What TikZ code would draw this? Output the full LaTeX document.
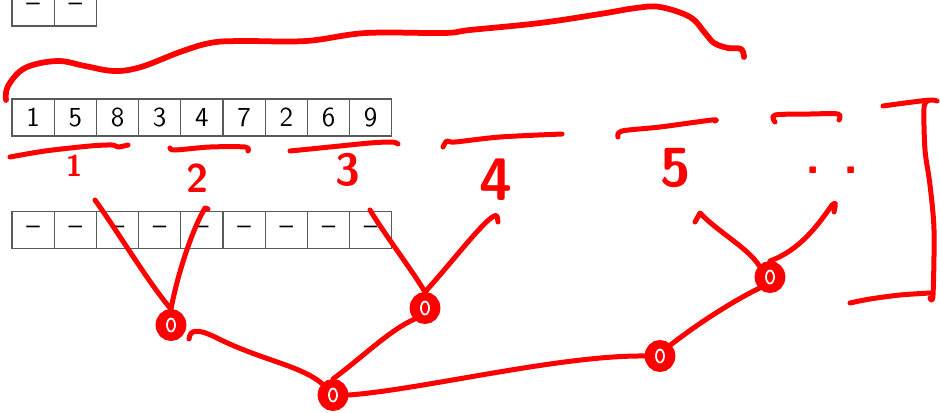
\documentclass[tikz,border=0pt]{standalone}
\usepackage{tikz}
\usetikzlibrary{calc, positioning, shapes.geometric, arrows.meta}
\definecolor{inkRed}{HTML}{FF0000}
\definecolor{cellLine}{HTML}{5A5A5A}

\begin{document}
\begin{tikzpicture}[x=0.4pt, y=-0.4pt,
    cell/.style={draw=cellLine, line width=0.5pt, minimum width=16.9pt, minimum height=14.8pt,
                 inner sep=0pt, font=\sffamily\fontsize{11}{13}\selectfont},
    ink/.style={draw=inkRed, line width=2pt, line cap=round, line join=round},
    blob/.style={ellipse, draw=inkRed, fill=inkRed, line width=1.8pt, minimum width=10.5pt, minimum height=11pt,
                 inner sep=0pt, path picture={
                   \draw[white, line width=0.7pt] (path picture bounding box.center) ellipse (1.6pt and 2.6pt);}},
    scrawl/.style={text=inkRed, inner sep=0pt, font=\sffamily\bfseries\fontsize{16}{18}\selectfont}]

  \clip (0,0) rectangle (940,413);

  % arrays
  \foreach \i in {1,2}
    \node[cell] (t\i) at ({33.1+42.2*(\i-1)}, 7.5) {--};
  \foreach \v [count=\i] in {1,5,8,3,4,7,2,6,9}
    \node[cell] (a\i) at ({33.1+42.2*(\i-1)}, 117.5) {\v};
  \foreach \i in {1,...,9}
    \node[cell] (b\i) at ({33.1+42.2*(\i-1)}, 230) {--};

  % brace over everything
  \draw[ink, line width=2.3pt] plot[smooth, tension=0.6] coordinates {(6,100) (8,86) (25,68) (57,61)
    (85,66) (114,71) (141,67) (180,52) (210,43) (240,41) (306,41) (366,33) (444,33) (470,30)
    (540,23) (600,14) (636,8) (660,7) (690,17) (705,33) (714,43) (728,48) (741,49) (744,57)};

  % group underlines
  \draw[ink] plot[smooth] coordinates {(10,157) (45,151) (90,146) (112,145) (118,147) (128,145)};
  \draw[ink] plot[smooth] coordinates {(170,148) (175,150) (210,147) (245,147) (248,151)};
  \draw[ink] plot[smooth] coordinates {(290,151) (330,147) (370,143) (392,142) (398,144)};
  \draw[ink] plot[smooth] coordinates {(443,147) (447,141) (455,142) (500,137) (562,134)};
  \draw[ink] plot[smooth] coordinates {(618,137) (622,131) (660,127) (712,120) (715,121)};
  \draw[ink] plot[smooth] coordinates {(775,122) (775,115) (810,114) (838,114) (839,120)};

  % right bracket
  \draw[ink] plot[smooth] coordinates {(883,106) (905,103) (930,100) (937,101)};
  \draw[ink] plot[smooth] coordinates {(928,101) (924,108) (925,150) (930,185) (934,230) (933,295) (930,298)};
  \draw[ink] plot[smooth] coordinates {(850,303) (870,299) (900,295) (930,293)};

  % group numbers
  \node[scrawl, font=\sffamily\bfseries\fontsize{12}{14}\selectfont] (g1) at (74,166) {1};
  \node[scrawl] (g2) at (197,178) {2};
  \node[scrawl, font=\sffamily\bfseries\fontsize{18}{20}\selectfont] (g3) at (348,170) {3};
  \node[scrawl, font=\sffamily\bfseries\fontsize{24}{26}\selectfont] (g4) at (496,180) {4};
  \node[scrawl, font=\sffamily\bfseries\fontsize{22}{24}\selectfont] (g5) at (676,168) {5};
  \node[scrawl, font=\sffamily\bfseries\fontsize{20}{22}\selectfont] (g6) at (832,170) {.\hspace{9pt}.};

  % merge tree
  \node[blob] (c1) at (171,325) {};
  \node[blob] (c2) at (425,308) {};
  \node[blob] (c3) at (333,395) {};
  \node[blob] (c4) at (660,356) {};
  \node[blob] (c5) at (770,277) {};

  \coordinate (e1) at (95,200);
  \coordinate (e2) at (205,208);
  \coordinate (e3) at (370,210);
  \coordinate (e4) at (491,218);
  \coordinate (e5) at (700,213);
  \coordinate (e6) at (832,205);

  \draw[ink] (c1.north) .. controls (150,285) and (118,232) .. (e1);
  \draw[ink] (c1.north) .. controls (178,272) and (193,228) .. (e2) -- ++(3,1);
  \draw[ink] ($(c1)+(18,14)$) .. controls (190,330) and (196,328) .. (215,337)
             .. controls (260,360) and (300,365) .. (c3.north west);
  \draw[ink] (c3.north) .. controls (365,355) and (390,330) .. (c2.south west);
  \draw[ink] (c2.north) .. controls (412,270) and (385,235) .. (e3);
  \draw[ink] (c2.north) .. controls (452,262) and (478,228) .. (e4) .. controls (497,214) .. (498,222);
  \draw[ink] (c3.east) .. controls (420,390) and (560,355) .. (c4.west);
  \draw[ink] (c4.north east) .. controls (700,322) and (735,300) .. (c5.south west);
  \draw[ink] (c5.north west) .. controls (748,248) and (718,232) .. (e5) -- ++(-5,9);
  \draw[ink] (c5.north) .. controls (800,250) and (818,225) .. (e6) .. controls (836,202) .. (834,212);
\end{tikzpicture}
\end{document}
